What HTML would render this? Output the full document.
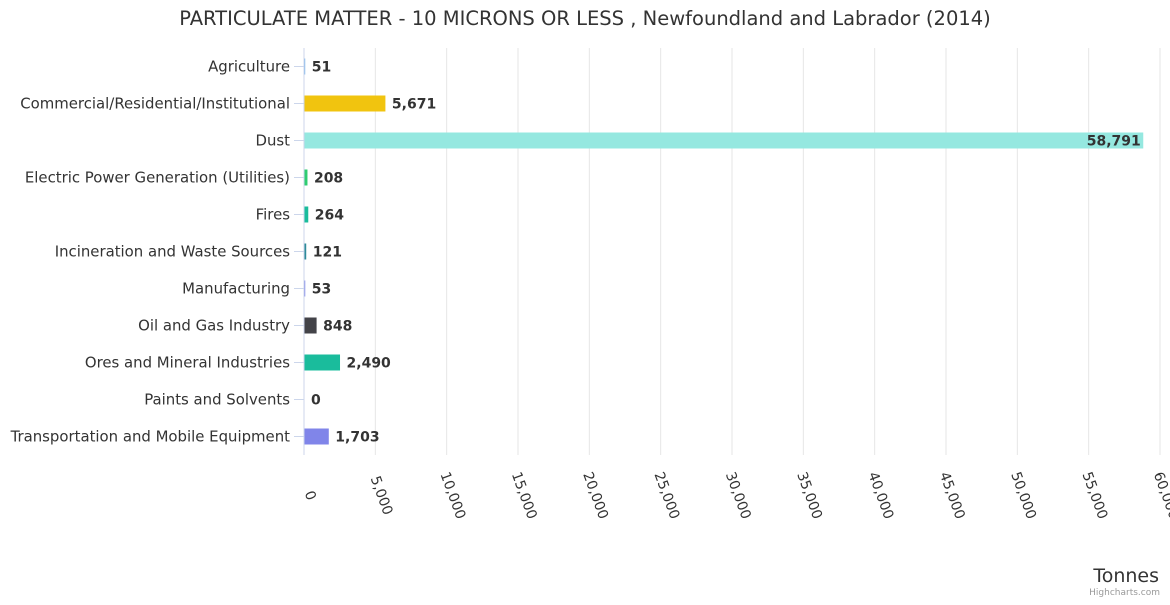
<!DOCTYPE html>
<html><head><meta charset="utf-8"><style>
body{margin:0;background:#fff;}
svg text{font-family:"DejaVu Sans","Liberation Sans",sans-serif;}
</style></head><body>
<svg id="c" width="1170" height="600" xmlns="http://www.w3.org/2000/svg">
<text x="585" y="25" text-anchor="middle" font-size="19.5" fill="#333">PARTICULATE MATTER - 10 MICRONS OR LESS , Newfoundland and Labrador (2014)</text>
<g id="grid"></g>
<g id="bars"></g>
<g id="cats"></g>
<g id="ticks"></g>
<text x="1159" y="582" text-anchor="end" font-size="19" fill="#333">Tonnes</text>
<text x="1160" y="595" text-anchor="end" font-size="9" fill="#999">Highcharts.com</text>
</svg>
<script>
const categories=["Agriculture","Commercial/Residential/Institutional","Dust","Electric Power Generation (Utilities)","Fires","Incineration and Waste Sources","Manufacturing","Oil and Gas Industry","Ores and Mineral Industries","Paints and Solvents","Transportation and Mobile Equipment"];
const values=[51,5671,58791,208,264,121,53,848,2490,0,1703];
const colors=["#7cb5ec","#f1c40f","#95e8e0","#2ecc71","#1abc9c","#2e8b9a","#8085e9","#434348","#1abc9c","#7cb5ec","#8085e9"];
const tickValues=[0,5000,10000,15000,20000,25000,30000,35000,40000,45000,50000,55000,60000];
const NS="http://www.w3.org/2000/svg";
const plotX0=304,plotX1=1160,plotTop=48,plotBottom=455,band=(plotBottom-plotTop)/categories.length;
const xs=v=>plotX0+(v/60000)*(plotX1-plotX0);
const ys=i=>plotTop+band*i+band/2;
function mk(t,a,p){const e=document.createElementNS(NS,t);for(const k in a)e.setAttribute(k,a[k]);p.appendChild(e);return e;}
const grid=document.getElementById('grid'),bars=document.getElementById('bars'),cats=document.getElementById('cats'),ticks=document.getElementById('ticks');
tickValues.forEach(v=>{
 const l=mk('line',{x1:xs(v),x2:xs(v),y1:plotTop,y2:plotBottom,stroke:v===0?'#ccd6eb':'#e6e6e6','stroke-width':1},grid);
 
 
 const t=mk('text',{x:0,y:0,'font-size':14,fill:'#333','text-anchor':'middle',transform:`translate(${xs(v)+2},497) rotate(70)`},ticks);
 t.textContent=v.toLocaleString('en-US');
 
 
});
categories.forEach((c,i)=>{
 const y=ys(i);
 const tk=mk('line',{x1:plotX0-10,x2:plotX0,y1:y,y2:y,stroke:'#ccd6eb'},grid);
 
 
 const t=mk('text',{x:plotX0-14,y:y+5,'font-size':14.9,fill:'#333','text-anchor':'end'},cats);
 t.textContent=c;
 
 
 const w=Math.max(xs(values[i])-plotX0,0);
 const r=mk('rect',{x:plotX0+0.5,y:y-8,width:w,height:16,fill:colors[i]},bars);
 
 
 const inside=w>200;
 const lb=mk('text',{x:inside?plotX0+w-2:plotX0+w+7,y:y+5,'font-size':14,'font-weight':'bold',fill:'#333','text-anchor':inside?'end':'start'},bars);
 lb.textContent=values[i].toLocaleString('en-US');
 
 
});
</script>
</body></html>
